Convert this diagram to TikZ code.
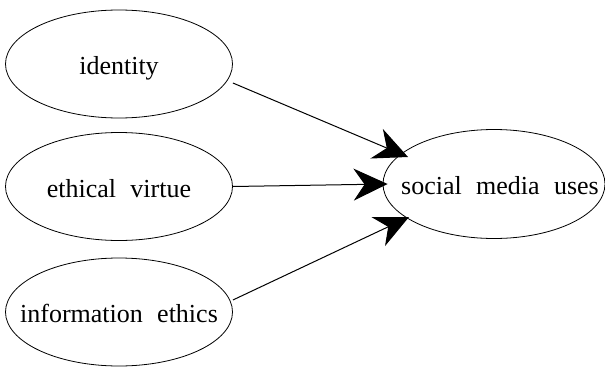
\documentclass[tikz,border=0pt]{standalone}
\usepackage{fontspec}
\setmainfont{Liberation Serif}
\usetikzlibrary{shapes.geometric,arrows.meta,calc}
\newcommand{\ovaltext}[1]{\raisebox{-10.5pt}[0pt][0pt]{\makebox[0pt]{#1}}}
\tikzset{
  oval/.style={draw, ellipse, line width=0.8pt, inner sep=0pt,
    minimum width=227pt, minimum height=108pt,
    font=\fontsize{26}{30}\selectfont},
  arr/.style={line width=1pt, -{Stealth[length=34pt,width=32pt,inset=11pt]}}
}
\begin{document}
\begin{tikzpicture}[x=1pt,y=-1pt]
\useasboundingbox (0,0) rectangle (605,367);
\node[oval] (id) at (119,64) {\ovaltext{identity}};
\node[oval] (ev) at (119,186.5) {\ovaltext{ethical\hspace{0.3em} virtue}};
\node[oval] (ie) at (119,312) {\ovaltext{information\hspace{0.3em} ethics}};
\node[oval, minimum width=222pt, minimum height=109pt] (smu) at (494,184) {\ovaltext{\hspace{12pt}social\hspace{0.3em} media\hspace{0.3em} uses}};
\draw[arr] ([yshift=-19pt]id.east) -- ([shift={(-86pt,27pt)}]smu.center);
\draw[arr] (ev.east) -- ([xshift=5pt]smu.west);
\draw[arr] ([yshift=12pt]ie.east) -- ([shift={(-85pt,-33pt)}]smu.center);
\end{tikzpicture}
\end{document}
